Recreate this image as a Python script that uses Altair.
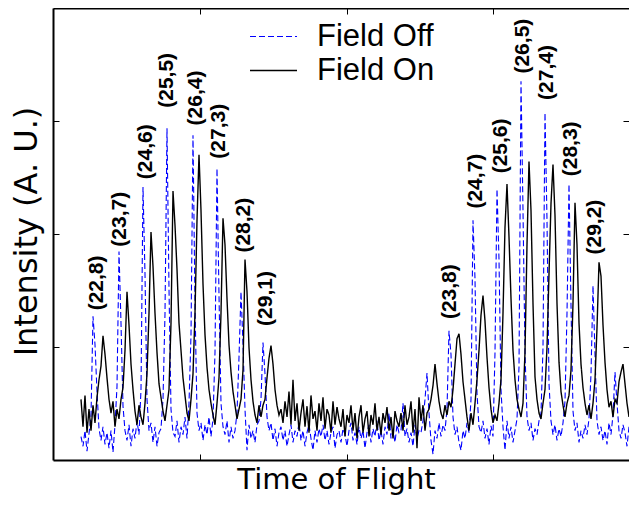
import altair as alt
import pandas as pd

# time-of-flight channels: first channel and channel step
T0, DT = 28, 2

# ---- Field Off (blue dashed) intensities ----
OFF_LEFT = [24, 14, 30, 9, 27, 45, 147, 118, 70, 32,
            20, 34, 16, 28, 12, 30, 8, 36, 75, 213,
            140, 55, 30, 20, 36, 14, 32, 22, 40, 26,
            72, 279, 190, 62, 30, 38, 18, 34, 14, 28,
            32, 62, 150, 339, 175, 52, 28, 24, 40, 18,
            34, 26, 44, 22, 58, 128, 332, 158, 48, 30,
            38, 20, 36, 26, 44, 24, 42, 110, 298, 168,
            58, 34, 26, 40, 18, 34, 22, 30, 48, 105,
            172, 118, 52, 10, 36, 22, 30, 18, 36, 40,
            62, 120, 88, 44, 30, 38, 20, 32, 14, 28]
OFF_MID = [34, 20, 30, 14, 26, 36, 18, 30, 24, 38,
           20, 30, 14, 28, 36, 22, 10, 30, 18, 32,
           24, 36, 20, 30, 16, 28, 34, 12, 26, 30,
           18, 32, 26, 14, 30, 38, 20, 28, 16, 34,
           22, 30, 12, 28, 36, 18, 32, 24, 40, 20,
           30, 16, 34, 26, 48, 22, 30, 18, 36, 28,
           30, 58, 24, 32, 18, 28, 14, 36, 22, 30]
OFF_RIGHT = [28, 40, 62, 89, 48, 20, 6, 30, 22, 38,
             24, 36, 30, 52, 132, 108, 44, 26, 34, 18,
             10, 30, 22, 38, 28, 62, 245, 185, 68, 34,
             28, 40, 22, 32, 16, 35, 24, 110, 277, 205,
             72, 34, 10, 40, 22, 34, 18, 30, 42, 95,
             387, 255, 110, 44, 30, 38, 20, 32, 26, 40,
             48, 115, 355, 245, 78, 40, 26, 36, 20, 32,
             24, 38, 60, 150, 282, 158, 50, 30, 38, 18,
             30, 22, 36, 26, 42, 88, 178, 108, 40, 26,
             34, 20, 30, 16, 38, 26, 46, 90, 58, 30,
             22, 36, 28, 14, 34, 24, 38, 20, 30]

# ---- Field On (black solid) intensities ----
ON_LEFT = [62, 34, 66, 28, 52, 30, 56, 38, 64, 82,
           96, 127, 108, 84, 62, 48, 60, 34, 52, 42,
           62, 74, 112, 172, 138, 98, 72, 50, 36, 56,
           44, 36, 58, 88, 150, 233, 198, 150, 110, 78,
           64, 50, 40, 56, 72, 140, 275, 240, 195, 140,
           112, 84, 66, 48, 40, 62, 88, 150, 245, 312,
           255, 180, 128, 95, 72, 58, 46, 36, 58, 84,
           150, 247, 220, 165, 118, 90, 70, 56, 42, 52,
           62, 92, 205, 172, 115, 82, 60, 46, 38, 56,
           44, 56, 62, 84, 104, 117, 98, 72, 56, 46]
ON_MID = [52, 38, 60, 44, 70, 36, 82, 40, 58, 30,
          48, 62, 34, 55, 28, 66, 42, 50, 30, 58,
          40, 64, 32, 52, 46, 28, 60, 36, 54, 42,
          34, 52, 24, 46, 38, 56, 30, 48, 22, 44,
          56, 28, 42, 50, 24, 46, 36, 58, 30, 44,
          26, 48, 38, 54, 30, 44, 22, 50, 40, 34,
          48, 30, 56, 36, 44, 60, 28, 52, 12, 64]
ON_RIGHT = [40, 56, 30, 48, 52, 62, 76, 98, 78, 60,
            48, 42, 56, 46, 60, 54, 72, 98, 124, 129,
            108, 80, 62, 44, 30, 48, 36, 58, 82, 112,
            148, 168, 142, 105, 74, 52, 38, 46, 40, 58,
            82, 150, 238, 282, 228, 165, 112, 82, 62, 52,
            44, 58, 110, 220, 305, 255, 160, 85, 62, 48,
            42, 58, 72, 115, 190, 262, 302, 250, 160, 100,
            70, 56, 44, 58, 66, 92, 160, 263, 220, 140,
            98, 74, 58, 46, 56, 42, 58, 82, 135, 202,
            188, 138, 100, 72, 54, 60, 44, 62, 58, 80,
            90, 98, 78, 58, 44, 56, 30, 52, 40]

SERIES = ["Field Off", "Field On"]

# ---- peak assignments (J, K) ----
LABELS_LEFT = ["(22,8)", "(23,7)", "(24,6)", "(25,5)", "(26,4)", "(27,3)", "(28,2)", "(29,1)"]
LX_LEFT = [44, 67, 93, 114, 143, 166, 190.5, 213]
LY_LEFT = [153, 218, 287, 360, 342, 308, 212, 137]
LABELS_RIGHT = ["(23,8)", "(24,7)", "(25,6)", "(26,5)", "(27,4)", "(28,3)", "(29,2)"]
LX_RIGHT = [397, 423, 448, 470, 494, 518, 542]
LY_RIGHT = [144, 257, 293, 395, 368, 290, 210]

XMAX, YMAX = 576, 462
XTICKS = [147, 294, 440]
YTICKS = [115, 231, 346]

W, H = 576, 452

field_off = OFF_LEFT + OFF_MID + OFF_RIGHT
field_on = ON_LEFT + ON_MID + ON_RIGHT
rows = []
for name, vals in zip(SERIES, [field_off, field_on]):
    for i, v in enumerate(vals):
        rows.append({"t": T0 + DT * i, "I": v, "series": name})
df = pd.DataFrame(rows)

lab_left = pd.DataFrame({"x": LX_LEFT, "y": LY_LEFT, "label": LABELS_LEFT})
lab_right = pd.DataFrame({"x": LX_RIGHT, "y": LY_RIGHT, "label": LABELS_RIGHT})

xs = alt.Scale(domain=[0, XMAX], nice=False, zero=False)
ys = alt.Scale(domain=[0, YMAX], nice=False, zero=False)


def tick_axis(orient, offset, values, domain=False):
    return alt.Axis(orient=orient, offset=offset, values=values, labels=False,
                    domain=domain, domainColor="black", domainWidth=2,
                    grid=False, ticks=True, tickSize=6, tickWidth=1,
                    tickColor="black", title=None, minExtent=0)


legend = alt.Legend(orient="none", legendX=196, legendY=13, title=None,
                    symbolType="stroke", symbolSize=2209, symbolStrokeWidth=1,
                    labelFont="Liberation Sans", labelFontSize=31,
                    labelColor="black", labelOffset=19, rowPadding=2,
                    clipHeight=31, padding=0, labelLimit=400)

lines = alt.Chart(df).mark_line(clip=True).encode(
    x=alt.X("t:Q", scale=xs,
            axis=alt.Axis(orient="bottom", title="Time of Flight", labels=False,
                          ticks=False, grid=False, domain=True,
                          domainColor="black", domainWidth=2,
                          titleFont="DejaVu Sans", titleFontSize=29,
                          titleFontWeight="normal", titleColor="black",
                          titlePadding=5, titleX=283, minExtent=0)),
    y=alt.Y("I:Q", scale=ys,
            axis=alt.Axis(orient="left", title="Intensity (A. U.)", labels=False,
                          ticks=False, grid=False, domain=True,
                          domainColor="black", domainWidth=2,
                          titleFont="DejaVu Sans", titleFontSize=32,
                          titleFontWeight="normal", titleColor="black",
                          titlePadding=10, titleY=223, minExtent=0)),
    color=alt.Color("series:N",
                    scale=alt.Scale(domain=SERIES, range=["#0000ff", "#000000"]),
                    legend=legend),
    strokeDash=alt.StrokeDash("series:N",
                              scale=alt.Scale(domain=SERIES, range=[[6, 3], [1, 0]]),
                              legend=legend),
    strokeWidth=alt.StrokeWidth("series:N",
                                scale=alt.Scale(domain=SERIES, range=[1.1, 1.4]),
                                legend=None),
)

text_style = dict(angle=270, align="left", baseline="middle",
                  font="Liberation Sans", fontWeight="bold", fontSize=21,
                  color="black")

labels_left = alt.Chart(lab_left).mark_text(**text_style).encode(
    x=alt.X("x:Q", scale=xs, axis=tick_axis("top", -H, XTICKS)),
    y=alt.Y("y:Q", scale=ys, axis=tick_axis("right", -W, YTICKS)),
    text="label:N",
)

labels_right = alt.Chart(lab_right).mark_text(**text_style).encode(
    x=alt.X("x:Q", scale=xs, axis=tick_axis("bottom", -H, XTICKS, domain=True)),
    y=alt.Y("y:Q", scale=ys, axis=tick_axis("left", -W, YTICKS)),
    text="label:N",
)

chart = alt.layer(lines, labels_left, labels_right).resolve_axis(
    x="independent", y="independent"
).properties(
    width=W, height=H,
    autosize=alt.AutoSizeParams(type="none"),
    padding={"left": 45, "top": 0, "right": 0, "bottom": 38},
).configure_view(strokeWidth=0)

chart.save("out.html", embed_options={"renderer": "svg", "actions": False})
